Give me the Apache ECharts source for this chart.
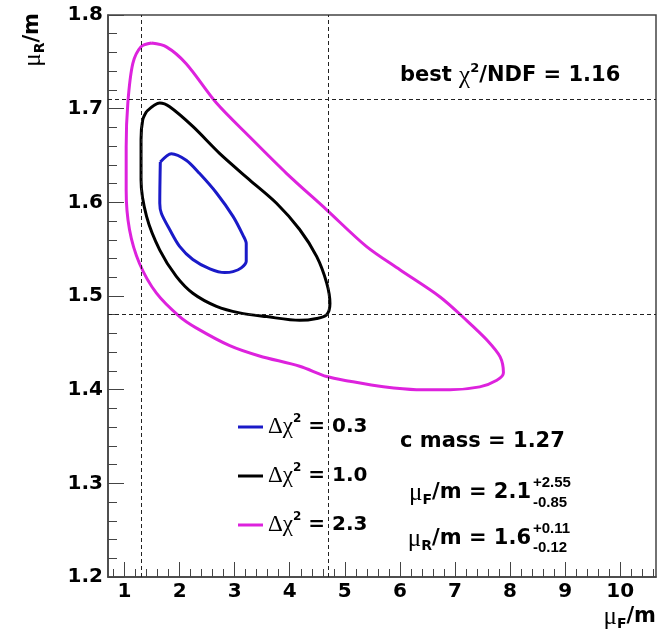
<!DOCTYPE html>
<html>
<head>
<meta charset="utf-8">
<script src="https://cdn.jsdelivr.net/npm/echarts@6/dist/echarts.min.js"></script>
<style>
html, body { margin: 0; padding: 0; background: #fff; }
#main { width: 667px; height: 635px; }
</style>
</head>
<body>
<div id="main"></div>
<script>
// contour delta chi2 = 0.3
var blueX = [1.65, 1.85, 2.12, 2.36, 2.67, 2.97, 3.15, 3.21, 3.21, 3.12, 2.97, 2.82, 2.55, 2.24, 2.00, 1.82, 1.67, 1.64];
var blueY = [1.643, 1.652, 1.645, 1.631, 1.610, 1.585, 1.565, 1.556, 1.537, 1.530, 1.526, 1.525, 1.529, 1.539, 1.553, 1.571, 1.588, 1.599];
// contour delta chi2 = 1.0
var blackX = [1.40, 1.64, 1.82, 2.24, 2.73, 3.27, 3.76, 4.18, 4.49, 4.67, 4.73, 4.67, 4.49, 4.18, 3.58, 3.09, 2.67, 2.24, 1.94, 1.64, 1.40, 1.30, 1.30, 1.33];
var blackY = [1.697, 1.706, 1.702, 1.681, 1.652, 1.624, 1.599, 1.571, 1.542, 1.514, 1.492, 1.480, 1.476, 1.474, 1.478, 1.482, 1.489, 1.503, 1.521, 1.549, 1.585, 1.624, 1.667, 1.688];
// contour delta chi2 = 2.3
var magX = [1.49, 1.76, 2.12, 2.67, 3.27, 3.94, 4.67, 5.39, 6.00, 6.73, 7.21, 7.58, 7.82, 7.88, 7.76, 7.45, 6.91, 6.30, 5.70, 5.09, 4.67, 4.18, 3.45, 2.91, 2.30, 2.00, 1.58, 1.27, 1.09, 1.03, 1.03, 1.06, 1.15, 1.30];
var magY = [1.770, 1.766, 1.748, 1.706, 1.670, 1.631, 1.592, 1.553, 1.528, 1.499, 1.474, 1.453, 1.435, 1.418, 1.410, 1.403, 1.400, 1.400, 1.403, 1.409, 1.414, 1.425, 1.436, 1.447, 1.466, 1.478, 1.503, 1.535, 1.571, 1.613, 1.659, 1.706, 1.748, 1.766];

var levels = ['0.3', '1.0', '2.3'];
var colors = ['#1a1ac8', '#000000', '#dd22dd'];

// best fit band (dashed lines)
var bandX = [1.3, 4.7];
var bandY = [1.476, 1.706];

var xTickLabels = ['1', '2', '3', '4', '5', '6', '7', '8', '9', '10'];
var yTickLabels = ['1.2', '1.3', '1.4', '1.5', '1.6', '1.7', '1.8'];

var bestChi2 = '1.16';
var cMass = '1.27';
var muF = ['2.1', '+2.55', '-0.85'];
var muR = ['1.6', '+0.11', '-0.12'];

var FONT = 'DejaVu Sans';
var GREEK = 'Liberation Serif';

function closed(xs, ys) {
	var d = [];
	for (var i = 0; i < xs.length; i++) d.push([xs[i], ys[i]]);
	d.push([xs[0], ys[0]]);
	return d;
}

var xMajor = xTickLabels.map(Number);
var yMajor = yTickLabels.map(Number);
var xMinor = [];
for (var i = 4; i <= 53; i++) { if (i % 5 != 0) xMinor.push(i / 5); }
var yMinor = [];
for (var j = 61; j <= 89; j++) { if (j % 5 != 0) yMinor.push(j / 50); }

var rich = {
	b: { fontFamily: FONT, fontWeight: 'bold', fontSize: 21, lineHeight: 28, color: '#000' },
	g: { fontFamily: GREEK, fontSize: 25, lineHeight: 28, color: '#000' },
	sup: { fontFamily: FONT, fontWeight: 'bold', fontSize: 13, lineHeight: 14, verticalAlign: 'top', color: '#000' },
	sub: { fontFamily: FONT, fontWeight: 'bold', fontSize: 14, lineHeight: 18, verticalAlign: 'bottom', color: '#000' }
};

var dom = document.getElementById('main');
var chart = echarts.init(dom);

var contours = [[blueX, blueY], [blackX, blackY], [magX, magY]];
var series = [];
for (var k = 0; k < 3; k++) {
	series.push({
		name: 'Δχ² = ' + levels[k],
		type: 'line',
		data: closed(contours[k][0], contours[k][1]),
		smooth: 0.3,
		symbol: 'none',
		lineStyle: { color: colors[k], width: 3 },
		itemStyle: { color: colors[k] },
		z: 3
	});
}
series[0].markLine = {
	silent: true,
	symbol: ['none', 'none'],
	label: { show: false },
	lineStyle: { color: '#222', type: [4, 3], width: 1 },
	data: [
		{ xAxis: bandX[0] }, { xAxis: bandX[1] },
		{ yAxis: bandY[0] }, { yAxis: bandY[1] }
	]
};

function stackText(x, y, txt) {
	return {
		type: 'text', x: x, y: y,
		style: { text: txt, fontFamily: 'Liberation Sans', fontWeight: 'bold', fontSize: 15, fill: '#000', align: 'left', verticalAlign: 'middle' }
	};
}

var option = {
	animation: false,
	grid: {
		left: 108, right: 11, top: 15, bottom: 58,
		show: true, borderColor: '#444', borderWidth: 1.5,
		outerBoundsMode: 'none'
	},
	legend: {
		orient: 'vertical',
		left: 238, top: 413,
		padding: 0,
		itemGap: 23.5,
		itemWidth: 25, itemHeight: 3,
		icon: 'rect',
		selectedMode: false,
		data: series.map(function (s) { return s.name; }),
		formatter: function (name) {
			return '{g|Δχ}{sup|2}{b| = ' + name.split('= ')[1] + '}';
		},
		textStyle: { color: '#000', rich: {
			b: { fontFamily: FONT, fontWeight: 'bold', fontSize: 20, lineHeight: 28, color: '#000' },
			g: { fontFamily: GREEK, fontSize: 23, lineHeight: 28, color: '#000' },
			sup: { fontFamily: FONT, fontWeight: 'bold', fontSize: 12, lineHeight: 14, verticalAlign: 'top', color: '#000' }
		} }
	},
	xAxis: [{
		type: 'value', min: 0.7, max: 10.65, position: 'bottom',
		axisLine: { show: true, lineStyle: { color: '#444', width: 1.5 } },
		axisTick: { inside: true, length: 15, customValues: xMajor, lineStyle: { color: '#444' } },
		axisLabel: {
			customValues: xMajor, margin: 5,
			formatter: function (v) { return xTickLabels[xMajor.indexOf(v)]; },
			fontFamily: FONT, fontWeight: 'bold', fontSize: 20, color: '#000'
		},
		splitLine: { show: false }
	}, {
		type: 'value', min: 0.7, max: 10.65, position: 'bottom',
		axisLine: { show: false },
		axisTick: { inside: true, length: 8, customValues: xMinor, lineStyle: { color: '#444' } },
		axisLabel: { show: false },
		splitLine: { show: false }
	}],
	yAxis: [{
		type: 'value', min: 1.2, max: 1.8, position: 'left',
		axisLine: { show: true, lineStyle: { color: '#444', width: 1.5 } },
		axisTick: { inside: true, length: 16, customValues: yMajor, lineStyle: { color: '#444' } },
		axisLabel: {
			customValues: yMajor, margin: 5,
			formatter: function (v) { return v.toFixed(1); },
			fontFamily: FONT, fontWeight: 'bold', fontSize: 20, color: '#000'
		},
		splitLine: { show: false }
	}, {
		type: 'value', min: 1.2, max: 1.8, position: 'left',
		axisLine: { show: false },
		axisTick: { inside: true, length: 9, customValues: yMinor, lineStyle: { color: '#444' } },
		axisLabel: { show: false },
		splitLine: { show: false }
	}],
	graphic: [
		{ type: 'text', x: 400, y: 76, style: { text: '{b|best }{g|χ}{sup|2}{b|/NDF = ' + bestChi2 + '}', rich: rich, align: 'left', verticalAlign: 'middle' } },
		{ type: 'text', x: 400, y: 442, style: { text: '{b|c mass = ' + cMass + '}', rich: rich, align: 'left', verticalAlign: 'middle' } },
		{ type: 'text', x: 531, y: 493, style: { text: '{g|μ}{sub|F}{b|/m = ' + muF[0] + '}', rich: rich, align: 'right', verticalAlign: 'middle' } },
		stackText(533, 483, muF[1]),
		stackText(533, 503, muF[2]),
		{ type: 'text', x: 531, y: 539, style: { text: '{g|μ}{sub|R}{b|/m = ' + muR[0] + '}', rich: rich, align: 'right', verticalAlign: 'middle' } },
		stackText(533, 529, muR[1]),
		stackText(533, 548, muR[2]),
		{ type: 'text', x: 656, y: 617, style: { text: '{g|μ}{sub|F}{b|/m}', rich: rich, align: 'right', verticalAlign: 'middle' } },
		{ type: 'text', x: 33, y: 13, rotation: Math.PI / 2, style: { text: '{g|μ}{sub|R}{b|/m}', rich: rich, align: 'right', verticalAlign: 'middle' } }
	],
	series: series
};

chart.setOption(option);
</script>
</body>
</html>
